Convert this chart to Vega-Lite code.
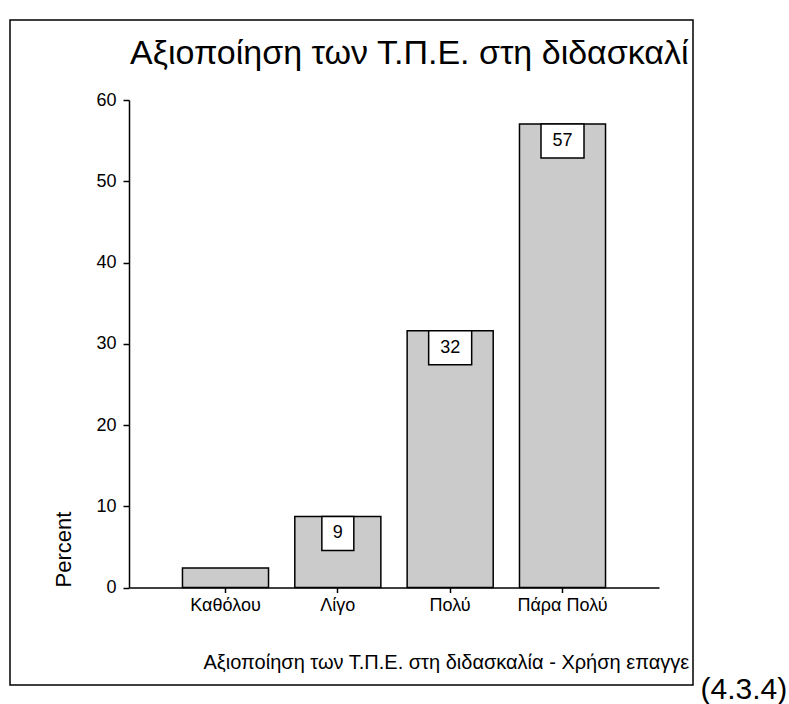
{
  "$schema": "https://vega.github.io/schema/vega-lite/v6.json",
  "autosize": "none",
  "padding": {"left": 10, "top": 20, "right": 96, "bottom": 19},
  "width": 683,
  "height": 665,
  "background": "white",
  "config": {
    "font": "Liberation Sans",
    "view": {"stroke": "black", "strokeWidth": 1.5},
    "axis": {"grid": false, "labelColor": "black", "titleColor": "black", "domainColor": "black", "tickColor": "black", "domainWidth": 1.5, "tickWidth": 1.5, "labelFont": "Liberation Sans", "titleFont": "Liberation Sans", "titleFontWeight": "normal"}
  },
  "title": {
    "text": "Αξιοποίηση των Τ.Π.Ε. στη διδασκαλί",
    "anchor": "start",
    "frame": "group",
    "orient": "top",
    "offset": 0,
    "baseline": "alphabetic",
    "dx": 120,
    "dy": 78,
    "fontSize": 34,
    "fontWeight": "normal",
    "font": "Liberation Sans",
    "color": "black"
  },
  "data": {
    "values": [
      {"cat": "Καθόλου", "pct": 2.4, "label": ""},
      {"cat": "Λίγο", "pct": 8.75, "label": "9"},
      {"cat": "Πολύ", "pct": 31.6, "label": "32"},
      {"cat": "Πάρα Πολύ", "pct": 57.05, "label": "57"}
    ]
  },
  "resolve": {"scale": {"y": "independent"}, "axis": {"y": "independent"}},
  "layer": [
    {
      "mark": {"type": "bar", "fill": "#cbcbcb", "stroke": "black", "strokeWidth": 1.5},
      "encoding": {
        "x": {
          "field": "cat", "type": "nominal", "sort": null,
          "scale": {"range": [119, 649], "paddingInner": 0.234, "paddingOuter": 0.476, "align": 0.5},
          "axis": {
            "orient": "bottom", "offset": -97.5, "labelAngle": 0, "labelFontSize": 18, "labelPadding": 4, "tickSize": 5,
            "title": "Αξιοποίηση των Τ.Π.Ε. στη διδασκαλία - Χρήση επαγγε",
            "titleFontSize": 20, "titleAlign": "left", "titleAnchor": null, "titleBaseline": "alphabetic", "titleX": 193, "titleY": 80.5
          }
        },
        "y": {
          "field": "pct", "type": "quantitative",
          "scale": {"domain": [0, 60], "range": [567.5, 80], "nice": false},
          "axis": {
            "orient": "left", "offset": -119, "values": [0, 10, 20, 30, 40, 50, 60], "labelFontSize": 18, "labelPadding": 7, "tickSize": 6,
            "title": "Percent", "titleFontSize": 22, "titleAngle": -90, "titleAlign": "left", "titleBaseline": "alphabetic", "titleX": -59, "titleY": 567
          }
        }
      }
    },
    {
      "transform": [{"filter": "datum.label != ''"}],
      "mark": {"type": "point", "filled": true, "fill": "white", "stroke": "black", "strokeWidth": 1.5, "opacity": 1, "size": 1156, "yOffset": 17},
      "encoding": {
        "x": {"field": "cat", "type": "nominal", "sort": null},
        "y": {"field": "pct", "type": "quantitative", "scale": {"domain": [0, 60], "range": [567.5, 80], "nice": false}, "axis": null},
        "shape": {
          "field": "label", "type": "nominal",
          "scale": {"domain": ["9", "32", "57"], "range": ["M-0.94,-1H0.94V1H-0.94Z", "M-1.265,-1H1.265V1H-1.265Z", "M-1.265,-1H1.265V1H-1.265Z"]},
          "legend": null
        }
      }
    },
    {
      "transform": [{"filter": "datum.label != ''"}],
      "mark": {"type": "text", "fontSize": 18, "font": "Liberation Sans", "color": "black", "baseline": "middle", "align": "center", "yOffset": 17},
      "encoding": {
        "x": {"field": "cat", "type": "nominal", "sort": null},
        "y": {
          "field": "pct", "type": "quantitative", "scale": {"domain": [0, 60], "range": [567.5, 80], "nice": false},
          "axis": {"orient": "right", "labels": false, "ticks": false, "domain": false, "title": "(4.3.4)", "titleFontSize": 30, "titleAngle": 0, "titleAlign": "left", "titleBaseline": "alphabetic", "titleX": 7, "titleY": 678}
        },
        "text": {"field": "label"}
      }
    }
  ]
}
